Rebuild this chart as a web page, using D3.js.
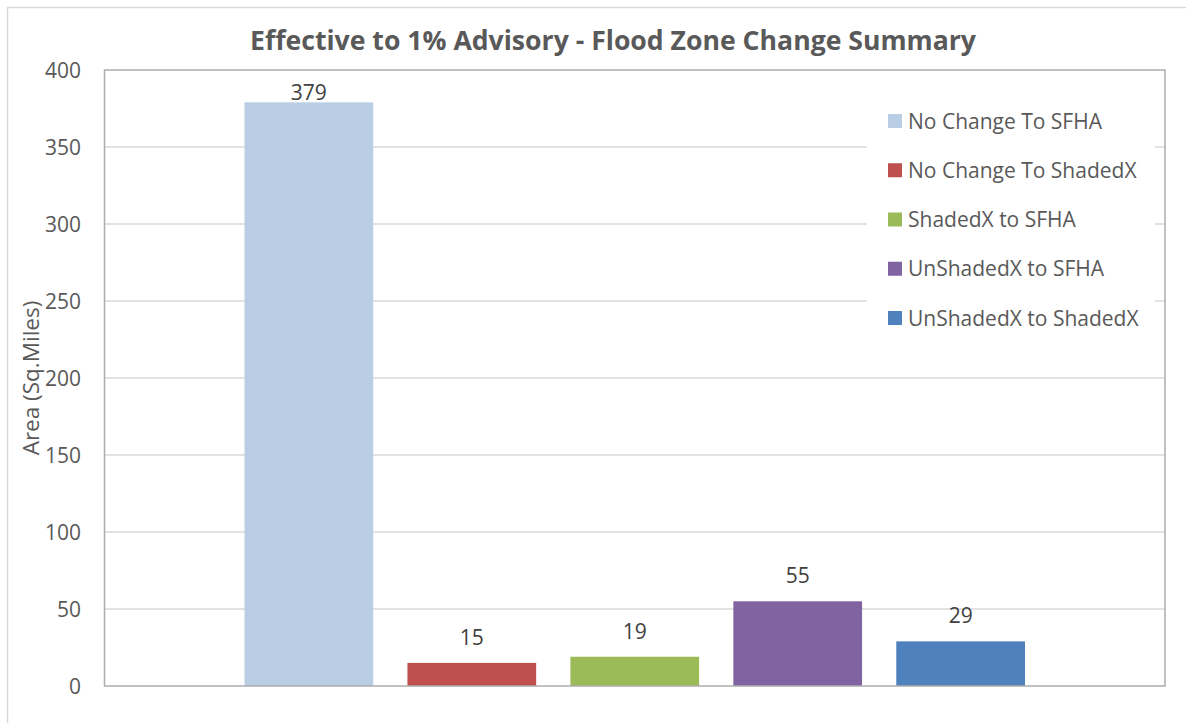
<!DOCTYPE html>
<html lang="en">
  <head>
    <meta charset="utf-8"/>
    <title>Flood Zone Change Summary</title>
    <style>
      html, body { margin: 0; padding: 0; background: #fff; }
      svg text { font-family: "Open Sans", "DejaVu Sans", sans-serif; }
    </style>
  </head>
  <body>
    <div id="chart"></div>

<script src="https://d3js.org/d3.v7.min.js"></script>
<script>
  const series = ["No Change To SFHA", "No Change To ShadedX", "ShadedX to SFHA", "UnShadedX to SFHA", "UnShadedX to ShadedX"];
  const values = [379, 15, 19, 55, 29];
  const colors = ["#B9CDE5", "#C0504D", "#9BBB59", "#8064A2", "#4F81BD"];
  const yTicks = [0, 50, 100, 150, 200, 250, 300, 350, 400];

  const width = 1186;
  const height = 723;
  const plot = { left: 104.5, right: 1165, top: 70, bottom: 686 };

  const svg = d3.select("#chart").append("svg")
      .attr("width", width)
      .attr("height", height);

  // outer chart border
  svg.append("rect")
      .attr("x", 7.5).attr("y", 7.5)
      .attr("width", width).attr("height", height)
      .attr("fill", "#fff")
      .attr("stroke", "#D9D9D9")
      .attr("stroke-width", 1.5);

  const y = d3.scaleLinear().domain([0, 400]).range([plot.bottom, plot.top]);
  const x = d3.scaleBand()
      .domain(series)
      .range([plot.left + 140, plot.right - 140])
      .paddingInner(0.21)
      .paddingOuter(0);

  // gridlines
  svg.append("g")
    .selectAll("line")
    .data(yTicks.filter(d => d > 0 && d < 400))
    .join("line")
      .attr("x1", plot.left).attr("x2", plot.right)
      .attr("y1", d => y(d)).attr("y2", d => y(d))
      .attr("stroke", "#D9D9D9")
      .attr("stroke-width", 1.5);

  // tick labels
  svg.append("g")
    .selectAll("text")
    .data(yTicks)
    .join("text")
      .attr("x", 81)
      .attr("y", d => y(d))
      .attr("dy", "0.36em")
      .attr("text-anchor", "end")
      .attr("font-size", 21)
      .attr("fill", "#595959")
      .text(d => d);

  // axis title
  svg.append("text")
      .attr("transform", `translate(39,${(plot.top + plot.bottom) / 2}) rotate(-90)`)
      .attr("text-anchor", "middle")
      .attr("font-size", 22.5)
      .attr("fill", "#595959")
      .text("Area (Sq.Miles)");

  // bars
  svg.append("g")
    .selectAll("rect")
    .data(series)
    .join("rect")
      .attr("x", d => x(d))
      .attr("y", (d, i) => y(values[i]))
      .attr("width", x.bandwidth())
      .attr("height", (d, i) => y(0) - y(values[i]))
      .attr("fill", (d, i) => colors[i]);

  // data labels
  svg.append("g")
    .selectAll("text")
    .data(series)
    .join("text")
      .attr("x", d => x(d) + x.bandwidth() / 2)
      .attr("y", (d, i) => Math.max(y(values[i]) - 18, y(400) + 30))
      .attr("text-anchor", "middle")
      .attr("font-size", 21)
      .attr("fill", "#404040")
      .text((d, i) => values[i]);

  // plot area border
  svg.append("rect")
      .attr("x", plot.left).attr("y", plot.top)
      .attr("width", plot.right - plot.left)
      .attr("height", plot.bottom - plot.top)
      .attr("fill", "none")
      .attr("stroke", "#ADADAD")
      .attr("stroke-width", 1.5);

  // legend
  const ly = d3.scalePoint().domain(series).range([121, 318]);
  svg.append("rect")
      .attr("x", 867).attr("y", 95)
      .attr("width", 288).attr("height", 250)
      .attr("fill", "#fff");

  const item = svg.append("g")
    .selectAll("g")
    .data(series)
    .join("g")
      .attr("transform", d => `translate(888,${ly(d)})`);

  item.append("rect")
      .attr("x", 0).attr("y", -7)
      .attr("width", 14).attr("height", 14)
      .attr("fill", (d, i) => colors[i]);

  item.append("text")
      .attr("x", 20)
      .attr("dy", "0.36em")
      .attr("font-size", 21)
      .attr("fill", "#595959")
      .text(d => d);

  // title
  svg.append("text")
      .attr("x", 613)
      .attr("y", 50)
      .attr("text-anchor", "middle")
      .attr("font-size", 26)
      .attr("font-weight", "bold")
      .attr("fill", "#595959")
      .attr("textLength", 726)
      .attr("lengthAdjust", "spacingAndGlyphs")
      .text("Effective to 1% Advisory - Flood Zone Change Summary");
</script>
  </body>
</html>
